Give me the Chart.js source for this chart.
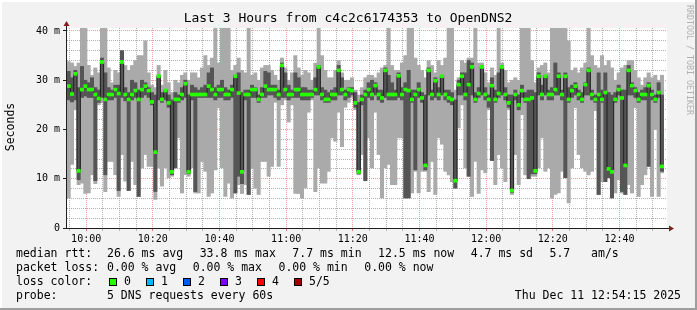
<!DOCTYPE html>
<html>
<head>
<meta charset="utf-8">
<script src="https://cdn.jsdelivr.net/npm/chart.js@4.4.1/dist/chart.umd.min.js"></script>
<style>
  html, body { margin: 0; padding: 0; background: #f2f2f2; }
  canvas { display: block; }
</style>
</head>
<body>
<canvas id="rttChart" width="697" height="310"></canvas>
<script>
// graph window starts at 09:54:15, one column per minute (5 DNS requests every 60s)
var startMinute = 9 * 60 + 54.25;
var spanMinutes = 180;
var tickLabels = ['10:00', '10:20', '10:40', '11:00', '11:20', '11:40', '12:00', '12:20', '12:40'];

// sorted pings per minute, ms: min, 2nd, median, 4th, max
var minRtt = [
  6.1, 12.9, 24.0, 8.8, 9.1, 7.0, 7.1, 10.8, 9.0, 25.0, 25.4, 7.4, 13.5, 13.5, 10.8, 6.4, 14.9, 9.5, 7.6, 13.5,
  8.8, 6.4, 12.2, 14.9, 12.5, 12.5, 5.8, 12.2, 8.5, 12.2, 10.2, 10.5, 12.2, 18.3, 7.1, 10.8, 10.5, 12.2, 7.1, 7.1,
  13.5, 11.5, 6.4, 7.1, 11.8, 24.4, 12.2, 6.4, 9.1, 6.1, 7.1, 8.8, 7.0, 8.8, 6.8, 12.2, 8.1, 6.8, 13.5, 13.5,
  10.5, 12.5, 25.5, 12.5, 25.0, 26.0, 21.5, 25.0, 7.0, 7.0, 6.1, 8.1, 23.5, 26.0, 7.4, 12.2, 9.1, 9.1, 11.5, 18.3,
  17.6, 23.5, 16.5, 24.5, 25.5, 26.5, 24.0, 10.8, 14.9, 9.6, 18.3, 12.2, 23.5, 14.9, 6.1, 12.2, 12.9, 8.8, 8.8, 18.3,
  18.3, 6.1, 6.1, 7.1, 11.5, 7.1, 11.5, 11.5, 7.4, 13.5, 6.8, 18.3, 17.0, 11.5, 10.8, 9.4, 8.1, 20.3, 25.0, 12.2,
  10.5, 6.4, 13.5, 7.0, 11.8, 11.2, 24.0, 13.7, 8.8, 14.9, 12.2, 9.4, 24.0, 6.8, 14.9, 8.8, 23.0, 10.8, 10.0, 10.5,
  10.5, 12.2, 18.3, 11.5, 12.2, 6.1, 6.8, 7.1, 11.5, 10.2, 5.1, 12.2, 24.4, 14.9, 12.2, 11.5, 10.8, 11.5, 23.8, 6.8,
  9.4, 9.4, 10.2, 6.1, 7.1, 9.8, 7.1, 6.8, 8.8, 7.1, 24.4, 6.4, 8.8, 10.8, 12.5, 6.4, 20.0, 6.4, 11.2
];
var lowSmoke = [
  26.0, 25.6, 26.0, 9.8, 26.5, 26.8, 26.5, 26.5, 9.6, 25.5, 26.5, 10.8, 26.0, 26.0, 26.5, 7.6, 26.5, 25.8, 7.6, 26.0,
  26.5, 6.4, 26.5, 27.0, 26.5, 25.0, 7.4, 26.0, 25.5, 26.0, 24.5, 10.8, 12.2, 25.5, 26.0, 26.5, 11.0, 26.0, 7.4, 26.5,
  26.5, 26.5, 26.5, 26.5, 26.0, 26.5, 26.5, 26.0, 26.0, 26.5, 7.1, 10.5, 9.0, 26.0, 6.8, 26.5, 26.5, 25.5, 26.5, 26.5,
  27.0, 27.0, 26.5, 26.0, 26.5, 26.5, 26.0, 26.5, 26.5, 26.5, 26.0, 26.0, 26.0, 26.5, 27.0, 27.0, 26.0, 25.5, 25.5, 26.0,
  26.0, 27.0, 27.0, 26.0, 26.5, 27.0, 24.5, 11.0, 25.0, 9.6, 26.5, 26.0, 27.0, 26.0, 25.5, 26.5, 26.0, 26.0, 26.0, 26.5,
  26.0, 6.1, 6.1, 25.5, 11.8, 26.5, 25.5, 11.8, 27.0, 26.0, 26.5, 26.0, 27.0, 26.0, 25.5, 25.0, 8.1, 27.0, 27.0, 26.0,
  10.5, 27.0, 25.5, 26.5, 27.0, 26.0, 24.5, 13.7, 25.5, 26.5, 27.0, 26.0, 24.5, 7.2, 26.0, 24.0, 26.5, 25.5, 10.0, 11.0,
  11.0, 27.0, 26.0, 27.0, 26.0, 26.0, 27.0, 27.0, 26.0, 10.2, 25.5, 26.5, 27.0, 26.0, 25.5, 27.0, 27.0, 26.0, 25.5, 6.8,
  25.5, 9.4, 10.2, 6.1, 25.5, 27.0, 7.4, 6.8, 27.0, 27.0, 26.5, 25.5, 26.0, 26.0, 12.5, 26.0, 25.5, 26.5, 11.5
];
var medianRtt = [
  28.8, 27.2, 31.3, 11.6, 28.1, 28.8, 28.1, 28.1, 27.1, 26.3, 33.7, 26.1, 27.1, 27.1, 28.1, 27.3, 33.7, 27.1, 26.1, 27.1,
  27.9, 26.1, 28.1, 28.8, 27.9, 25.6, 15.4, 30.8, 26.1, 27.9, 25.4, 11.4, 26.1, 26.1, 27.1, 29.3, 11.4, 27.1, 27.1, 27.1,
  27.1, 27.1, 28.8, 28.1, 27.1, 28.1, 28.1, 27.1, 27.1, 28.1, 30.8, 27.4, 11.4, 27.1, 27.1, 28.1, 28.1, 26.1, 27.1, 28.8,
  28.1, 28.1, 28.1, 27.1, 33.0, 28.1, 27.1, 27.1, 28.1, 28.1, 27.1, 27.1, 27.1, 27.1, 28.1, 32.7, 27.1, 26.1, 26.1, 27.1,
  27.1, 32.0, 28.1, 27.1, 28.1, 27.9, 25.4, 11.4, 26.1, 27.1, 28.1, 27.1, 28.9, 27.1, 26.4, 32.0, 27.1, 27.1, 27.1, 30.9,
  27.1, 28.1, 27.9, 26.1, 27.1, 28.1, 26.4, 12.7, 32.0, 27.1, 29.9, 27.1, 30.8, 27.1, 26.4, 26.1, 9.6, 29.1, 30.8, 27.1,
  29.1, 32.7, 26.1, 27.3, 32.7, 27.1, 26.1, 28.9, 26.1, 27.3, 32.7, 27.1, 25.4, 7.6, 27.1, 25.0, 27.9, 26.1, 26.1, 26.4,
  11.6, 30.8, 27.1, 30.8, 27.1, 27.1, 28.1, 30.8, 27.1, 30.8, 26.1, 27.9, 28.8, 27.1, 26.1, 29.1, 32.0, 27.1, 26.1, 27.1,
  26.1, 27.5, 12.0, 11.4, 26.1, 28.1, 26.4, 12.7, 32.0, 28.9, 27.9, 26.1, 27.1, 27.1, 28.9, 27.1, 26.1, 27.5, 12.5
];
var highSmoke = [
  31.8, 30.5, 32.0, 28.5, 32.8, 30.0, 29.5, 30.5, 28.5, 28.0, 34.5, 31.5, 28.5, 28.0, 29.0, 29.0, 36.0, 28.5, 27.5, 30.0,
  29.5, 28.0, 30.0, 29.5, 28.5, 27.5, 27.0, 31.0, 27.5, 28.0, 27.0, 26.0, 27.5, 27.0, 28.5, 30.0, 27.0, 29.0, 28.5, 28.0,
  28.5, 29.0, 31.5, 32.5, 28.5, 29.0, 30.0, 28.5, 28.0, 29.0, 31.0, 31.5, 27.5, 28.0, 28.0, 29.0, 28.5, 27.0, 28.5, 31.8,
  31.5, 29.0, 29.0, 28.0, 33.5, 31.5, 29.0, 28.0, 31.5, 30.5, 28.5, 28.5, 28.0, 28.0, 30.5, 33.0, 28.5, 28.0, 27.5, 28.0,
  28.5, 33.0, 30.5, 28.0, 28.5, 28.5, 27.5, 25.5, 27.0, 28.0, 29.5, 30.0, 29.5, 28.0, 28.0, 32.5, 31.0, 29.5, 28.0, 31.5,
  28.5, 29.5, 32.0, 28.0, 28.0, 29.5, 27.5, 27.0, 32.5, 28.0, 30.5, 28.5, 31.0, 28.0, 28.0, 27.5, 26.0, 30.0, 31.5, 31.5,
  34.0, 33.5, 27.5, 28.5, 33.0, 28.5, 27.0, 30.5, 28.0, 31.5, 33.0, 28.5, 27.0, 27.0, 28.0, 27.0, 29.0, 27.5, 28.0, 28.0,
  27.5, 31.5, 29.0, 31.0, 28.0, 28.5, 33.5, 31.5, 28.0, 31.5, 28.5, 29.0, 29.5, 28.0, 27.5, 29.5, 32.5, 28.0, 27.0, 31.5,
  28.0, 31.5, 27.5, 27.0, 27.5, 29.0, 28.0, 28.0, 33.0, 29.5, 28.5, 27.5, 28.0, 28.5, 29.5, 28.0, 27.0, 29.5, 27.0
];
var maxRtt = [
  33.8, 33.5, 32.8, 33.5, 41, 41, 33.0, 31.0, 32.5, 31.5, 41, 41, 32.5, 29.5, 32.0, 31.5, 36.0, 33.0, 32.0, 33.0,
  34.0, 35.0, 35.0, 38.0, 31.5, 29.0, 28.5, 33.0, 29.0, 32.0, 29.5, 27.5, 30.0, 29.5, 31.0, 31.5, 30.0, 31.5, 31.5, 30.5,
  32.5, 35.0, 33.0, 34.5, 41, 33.5, 41, 41, 41, 32.0, 33.0, 34.5, 32.0, 31.5, 41, 31.0, 31.5, 30.0, 32.5, 33.0,
  33.0, 32.0, 31.0, 30.0, 34.5, 32.5, 30.0, 31.5, 35.0, 32.5, 31.0, 32.0, 31.5, 30.0, 33.5, 41, 35.0, 32.0, 30.5, 30.5,
  32.0, 34.0, 31.5, 30.0, 30.0, 30.5, 28.0, 27.0, 28.5, 30.5, 31.0, 31.0, 30.5, 31.5, 32.5, 33.0, 41, 33.0, 32.0, 32.0,
  33.5, 35.0, 41, 41, 34.5, 33.0, 32.0, 30.5, 34.0, 33.0, 31.5, 34.0, 33.0, 34.5, 41, 41, 28.0, 30.5, 34.0, 33.5,
  34.5, 34.5, 41, 33.5, 33.5, 31.5, 29.5, 32.5, 31.0, 41, 33.5, 32.0, 29.5, 30.0, 30.5, 30.0, 41, 41, 41, 34.0,
  29.5, 32.5, 33.0, 33.5, 31.5, 41, 41, 41, 41, 41, 38.0, 32.0, 32.5, 31.5, 32.5, 33.5, 41, 35.0, 33.0, 32.5,
  35.0, 33.0, 34.0, 32.5, 30.0, 31.5, 32.5, 33.0, 34.0, 34.0, 32.0, 30.5, 29.0, 30.5, 31.5, 30.5, 31.0, 30.0, 31.0
];

var lossColors = ['#26ff00', '#00b8ff', '#0059ff', '#7e00ff', '#ff0000', '#a10000'];
var lossLabels = ['0', '1', '2', '3', '4', '5/5'];

var monoFont = '"DejaVu Sans Mono", monospace';

function labelMinute(label) {
    var p = label.split(':');
    return Number(p[0]) * 60 + Number(p[1]) - startMinute;
}
var majorX = tickLabels.map(labelMinute);
var xTicks = [];
for (var m = majorX[0] % 5; m <= spanMinutes; m += 5) xTicks.push(m);
var yTicks = [];
for (var v = 0; v <= 40; v += 2) yTicks.push(v);

function isMajorX(v) { return majorX.some(function (t) { return Math.abs(t - v) < 0.01; }); }

var outerSmoke = medianRtt.map(function (med, i) { return {x: i + 0.5, y: [minRtt[i], maxRtt[i]]}; });
var innerSmoke = medianRtt.map(function (med, i) { return {x: i + 0.5, y: [lowSmoke[i], highSmoke[i]]}; });
var medianLine = medianRtt.map(function (med, i) { return {x: i + 0.5, y: med}; });
var medianMarks = medianRtt.map(function (med, i) { return {x: i + 0.5, y: [med - 0.3, med + 0.3]}; });

// background, frame, axes, arrows and the rrdtool style text
var rrdFrame = {
    id: 'rrdFrame',
    beforeDraw: function (chart) {
        var c = chart.ctx, a = chart.chartArea;
        c.save();
        c.fillStyle = '#f2f2f2';
        c.fillRect(0, 0, chart.width, chart.height);
        c.fillStyle = '#ffffff';
        c.fillRect(0, 0, chart.width, 2);
        c.fillRect(0, 0, 2, chart.height);
        c.fillStyle = '#9e9e9e';
        c.fillRect(0, chart.height - 2, chart.width, 2);
        c.fillRect(chart.width - 2, 0, 2, chart.height);
        c.fillStyle = '#ffffff';
        c.fillRect(a.left, a.top, a.right - a.left, a.bottom - a.top);
        c.restore();
    },
    afterDraw: function (chart) {
        var c = chart.ctx, a = chart.chartArea;
        c.save();
        // axes
        c.strokeStyle = '#1f1f1f';
        c.lineWidth = 1;
        c.beginPath();
        c.moveTo(a.left - 0.5, a.bottom + 1);
        c.lineTo(a.left - 0.5, a.top - 3);
        c.moveTo(a.left - 4, a.bottom + 0.5);
        c.lineTo(a.right + 3, a.bottom + 0.5);
        c.stroke();
        c.fillStyle = '#801f1f';
        c.beginPath();
        c.moveTo(a.left - 3.5, a.top - 2);
        c.lineTo(a.left + 2.5, a.top - 2);
        c.lineTo(a.left - 0.5, a.top - 7);
        c.closePath();
        c.fill();
        c.beginPath();
        c.moveTo(a.right + 2, a.bottom - 2.5);
        c.lineTo(a.right + 2, a.bottom + 3.5);
        c.lineTo(a.right + 7, a.bottom + 0.5);
        c.closePath();
        c.fill();

        // title
        c.fillStyle = '#000';
        c.textBaseline = 'middle';
        c.textAlign = 'center';
        c.font = '13px ' + monoFont;
        c.fillText('Last 3 Hours from c4c2c6174353 to OpenDNS2', 348, 19);

        // vertical label
        c.save();
        c.translate(11, 127);
        c.rotate(-Math.PI / 2);
        c.font = '11.5px ' + monoFont;
        c.fillText('Seconds', 0, 0);
        c.restore();

        // watermark
        c.save();
        c.translate(689, 5);
        c.rotate(Math.PI / 2);
        c.textAlign = 'left';
        c.fillStyle = '#b0b0b0';
        c.font = '8.3px ' + monoFont;
        c.fillText('RRDTOOL / TOBI OETIKER', 0, 0);
        c.restore();

        // legend
        c.textAlign = 'left';
        c.font = '11.5px ' + monoFont;
        var rows = [
            ['median rtt:', ['26.6 ms avg', '33.8 ms max', '7.7 ms min', '12.5 ms now', '4.7 ms sd', '5.7   am/s'], 254.5],
            ['packet loss:', ['0.00 % avg', '0.00 % max', '0.00 % min', '0.00 % now'], 268.5]
        ];
        rows.forEach(function (row) {
            c.fillText(row[0], 16, row[2]);
            var x = 107;
            row[1].forEach(function (t) {
                c.fillText(t, x, row[2]);
                x += c.measureText(t).width + 16.5;
            });
        });
        c.fillText('loss color:', 16, 282.5);
        lossColors.forEach(function (col, k) {
            var bx = Math.round(108.5 + 37 * k);
            c.fillStyle = col;
            c.fillRect(bx, 278, 8, 8);
            c.strokeStyle = '#000';
            c.strokeRect(bx + 0.5, 278.5, 7, 7);
            c.fillStyle = '#000';
            c.fillText(lossLabels[k], bx + 15, 282.5);
        });
        c.fillText('probe:', 16, 296.5);
        c.fillText('5 DNS requests every 60s', 107, 296.5);
        c.textAlign = 'right';
        c.fillText('Thu Dec 11 12:54:15 2025', 681, 296.5);
        c.restore();
    }
};

var ctx = document.getElementById('rttChart').getContext('2d');

var rttChart = new Chart(ctx, {
    type: 'bar',
    data: {
        datasets: [{
            label: 'min/max smoke',
            data: outerSmoke,
            backgroundColor: '#aaaaaa',
            grouped: false,
            barPercentage: 1,
            categoryPercentage: 1,
            order: 4
        }, {
            label: 'inner smoke',
            data: innerSmoke,
            backgroundColor: '#555555',
            grouped: false,
            barPercentage: 1,
            categoryPercentage: 1,
            order: 3
        }, {
            type: 'line',
            label: 'median',
            data: medianLine,
            borderColor: '#202020',
            borderWidth: 1,
            pointRadius: 0,
            stepped: 'middle',
            order: 2
        }, {
            label: 'median, 0 loss',
            data: medianMarks,
            backgroundColor: lossColors[0],
            grouped: false,
            barPercentage: 1,
            categoryPercentage: 1,
            order: 1
        }]
    },
    plugins: [rrdFrame],
    options: {
        responsive: false,
        animation: false,
        devicePixelRatio: 1,
        layout: { padding: { top: 28, left: 0, right: 30, bottom: 62 } },
        plugins: { legend: { display: false }, tooltip: { enabled: false } },
        scales: {
            x: {
                type: 'linear',
                min: 0,
                max: spanMinutes,
                offset: false,
                afterBuildTicks: function (s) { s.ticks = xTicks.map(function (t) { return {value: t}; }); },
                afterFit: function (s) { s.height = 20; },
                grid: {
                    offset: false,
                    tickLength: 3,
                    color: function (c) { return isMajorX(c.tick.value) ? 'rgba(222,79,79,0.55)' : 'rgba(143,143,143,0.7)'; },
                    tickColor: function (c) { return isMajorX(c.tick.value) ? 'rgba(222,79,79,0.8)' : 'rgba(143,143,143,0.6)'; }
                },
                border: { display: false, dash: [1, 1] },
                ticks: {
                    autoSkip: false,
                    maxRotation: 0,
                    padding: 2,
                    color: '#000',
                    font: { family: 'DejaVu Sans Mono', size: 10 },
                    callback: function (value) {
                        for (var i = 0; i < majorX.length; i++) {
                            if (Math.abs(majorX[i] - value) < 0.01) return tickLabels[i];
                        }
                        return '';
                    }
                }
            },
            y: {
                min: 0,
                max: 40.6,
                afterBuildTicks: function (s) { s.ticks = yTicks.map(function (t) { return {value: t}; }); },
                afterFit: function (s) { s.width = 67; },
                grid: {
                    tickLength: 4,
                    color: function (c) { return c.tick.value % 10 === 0 ? 'rgba(222,79,79,0.55)' : 'rgba(143,143,143,0.7)'; },
                    tickColor: function (c) { return c.tick.value % 10 === 0 ? '#1f1f1f' : 'rgba(0,0,0,0)'; }
                },
                border: { display: false, dash: [1, 1] },
                ticks: {
                    autoSkip: false,
                    padding: 3,
                    color: '#000',
                    font: { family: 'DejaVu Sans Mono', size: 10 },
                    callback: function (value) {
                        if (value % 10 !== 0) return '';
                        return value === 0 ? '0' : value + ' m';
                    }
                }
            }
        }
    }
});
</script>
</body>
</html>
